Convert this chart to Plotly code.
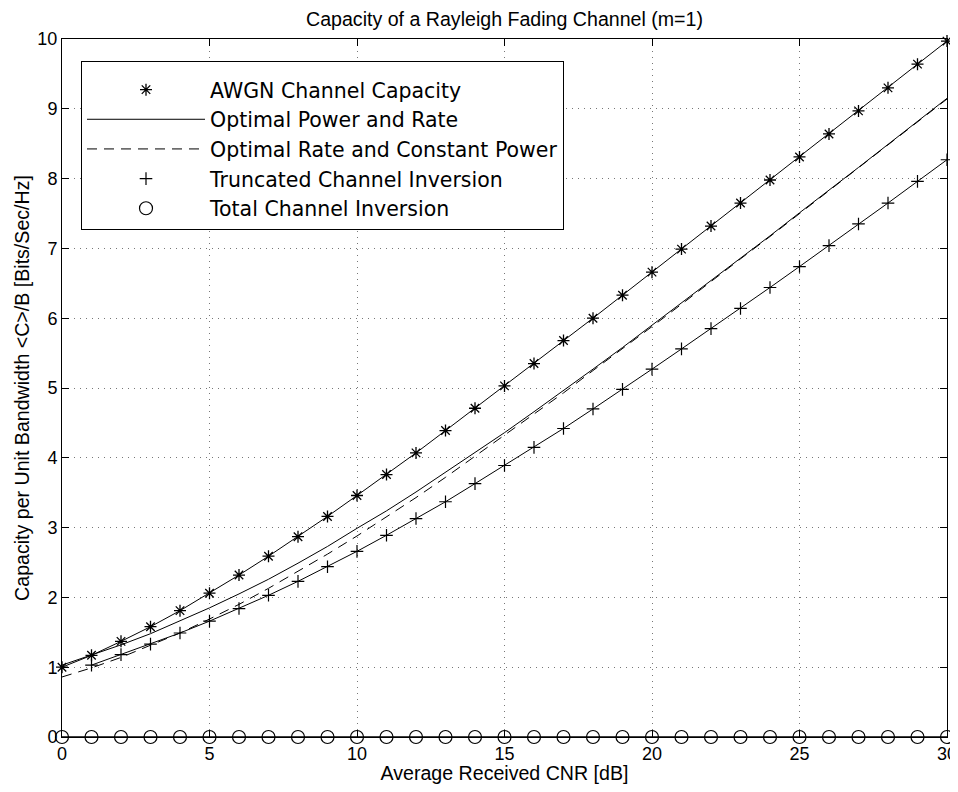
import plotly.graph_objects as go

# ---- data ----
cnr_db = list(range(0, 31))
awgn = [1.00, 1.17, 1.37, 1.58, 1.81, 2.06, 2.32, 2.59, 2.87, 3.16, 3.46,
        3.76, 4.07, 4.39, 4.71, 5.03, 5.35, 5.68, 6.00, 6.33, 6.66,
        6.99, 7.32, 7.65, 7.98, 8.31, 8.64, 8.97, 9.30, 9.64, 9.97]
opt_power_rate = [1.03, 1.17, 1.32, 1.48, 1.66, 1.85, 2.05, 2.26, 2.49, 2.73, 2.99,
                  3.24, 3.51, 3.79, 4.07, 4.36, 4.66, 4.96, 5.27, 5.58, 5.90,
                  6.21, 6.53, 6.86, 7.18, 7.51, 7.83, 8.16, 8.49, 8.82, 9.15]
opt_rate_const_power = [0.86, 0.99, 1.14, 1.31, 1.49, 1.69, 1.90, 2.13, 2.37, 2.62, 2.88,
                        3.15, 3.43, 3.72, 4.02, 4.32, 4.62, 4.93, 5.25, 5.56, 5.88,
                        6.20, 6.53, 6.85, 7.17, 7.50, 7.83, 8.16, 8.49, 8.81, 9.14]
trunc_db = list(range(1, 31))
trunc_inv = [1.03, 1.18, 1.33, 1.49, 1.66, 1.84, 2.03, 2.23, 2.44, 2.66,
             2.89, 3.13, 3.37, 3.63, 3.89, 4.15, 4.42, 4.70, 4.98, 5.27,
             5.56, 5.85, 6.14, 6.44, 6.74, 7.04, 7.35, 7.65, 7.96, 8.27]
total_inv = [0.0] * 31

x_ticks = [0, 5, 10, 15, 20, 25, 30]
y_ticks = list(range(0, 11))

title_text = "Capacity of a Rayleigh Fading Channel (m=1)"
x_title = "Average Received CNR [dB]"
y_title = "Capacity per Unit Bandwidth &lt;C&gt;/B [Bits/Sec/Hz]"

K = "black"
LW = 1
FONT = "Liberation Sans, Arial, sans-serif"

# figure is drawn inside the page's 8px body margin; keep it within the window
W, H = 950, 776

fig = go.Figure()

# connecting lines (not in legend)
fig.add_trace(go.Scatter(x=cnr_db, y=awgn, mode="lines",
                         line=dict(color=K, width=LW), showlegend=False, hoverinfo="skip"))
fig.add_trace(go.Scatter(x=trunc_db, y=trunc_inv, mode="lines",
                         line=dict(color=K, width=LW), showlegend=False, hoverinfo="skip"))
fig.add_trace(go.Scatter(x=cnr_db, y=total_inv, mode="lines",
                         line=dict(color=K, width=1.5), showlegend=False, hoverinfo="skip"))

# legend entries
fig.add_trace(go.Scatter(x=cnr_db, y=awgn, mode="markers", name="AWGN Channel Capacity",
                         marker=dict(symbol="asterisk-open", size=10, color=K,
                                     line=dict(color=K, width=1.3)),
                         cliponaxis=False))
fig.add_trace(go.Scatter(x=cnr_db, y=opt_power_rate, mode="lines", name="Optimal Power and Rate",
                         line=dict(color=K, width=LW)))
fig.add_trace(go.Scatter(x=cnr_db, y=opt_rate_const_power, mode="lines",
                         name="Optimal Rate and Constant Power",
                         line=dict(color=K, width=LW, dash="10px,7px")))
fig.add_trace(go.Scatter(x=trunc_db, y=trunc_inv, mode="markers", name="Truncated Channel Inversion",
                         marker=dict(symbol="cross-thin-open", size=9, color=K,
                                     line=dict(color=K, width=1.2)),
                         cliponaxis=False))
fig.add_trace(go.Scatter(x=cnr_db, y=total_inv, mode="markers", name="Total Channel Inversion",
                         marker=dict(symbol="circle-open", size=13, color=K,
                                     line=dict(color=K, width=1.2)),
                         cliponaxis=False))

axis_common = dict(
    showline=True, linecolor=K, linewidth=1, mirror="ticks",
    ticks="inside", ticklen=7, tickwidth=1, tickcolor=K,
    showgrid=True, gridcolor="#777777", gridwidth=1, griddash="1px,5px",
    zeroline=False, automargin=False,
    tickfont=dict(family=FONT, size=18, color=K),
)

fig.update_xaxes(range=[0, 30], tickvals=x_ticks, ticktext=[str(v) for v in x_ticks],
                 title=dict(text=x_title, standoff=7,
                            font=dict(family=FONT, size=19.6, color=K)),
                 **axis_common)
fig.update_yaxes(range=[0, 10], tickvals=y_ticks, ticktext=[str(v) for v in y_ticks],
                 title=dict(text=y_title, standoff=2,
                            font=dict(family=FONT, size=19.6, color=K)),
                 **axis_common)

fig.update_layout(
    width=W, height=H,
    margin=dict(l=54, r=11, t=31, b=47),
    paper_bgcolor="white", plot_bgcolor="white",
    title=dict(text=title_text, x=0.5, xref="paper", y=1 - 11 / H, yref="container",
               xanchor="center", yanchor="middle",
               font=dict(family=FONT, size=19.6, color=K)),
    legend=dict(x=(81 - 62) / 885, y=(737 - 61) / 698, xanchor="left", yanchor="top",
                bgcolor="white", bordercolor=K, borderwidth=1,
                font=dict(family="DejaVu Sans, sans-serif", size=20.5, color=K),
                title=dict(text=" ", font=dict(size=6)),
                itemwidth=118, tracegroupgap=0),
    showlegend=True,
)

fig.write_html("out.html")
